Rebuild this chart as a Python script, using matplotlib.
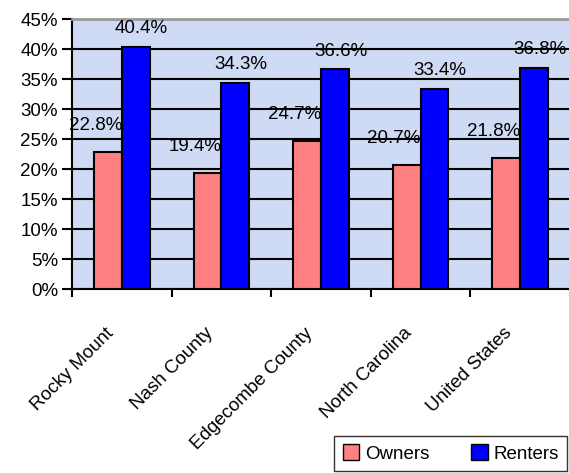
import matplotlib.pyplot as plt
import numpy as np
from matplotlib.transforms import ScaledTranslation
from matplotlib.patches import Patch

plt.rcParams['font.family'] = ['Liberation Sans', 'DejaVu Sans']

categories = ['Rocky Mount', 'Nash County', 'Edgecombe County', 'North Carolina', 'United States']
owners = [22.8, 19.4, 24.7, 20.7, 21.8]
renters = [40.4, 34.3, 36.6, 33.4, 36.8]

fs = 13.5

fig = plt.figure(figsize=(5.69, 4.73), dpi=100)
ax = fig.add_axes([72 / 569, 1 - 289 / 473, 498 / 569, 270 / 473])
ax.set_facecolor('#cfdaf4')

x = np.arange(len(categories))
w = 0.28
ax.bar(x - w / 2, owners, w, color='#ff8080', edgecolor='black', linewidth=1.5, zorder=3)
ax.bar(x + w / 2, renters, w, color='#0000ff', edgecolor='black', linewidth=1.5, zorder=3)

# data labels
for xi, v in zip(x, owners):
    ax.annotate(f'{v}%', (xi - w / 2, v), xytext=(-9, 13), textcoords='offset points',
                ha='center', va='bottom', fontsize=fs)
for xi, v in zip(x, renters):
    ax.annotate(f'{v}%', (xi + w / 2, v), xytext=(4, 7), textcoords='offset points',
                ha='center', va='bottom', fontsize=fs)

ax.set_xlim(-0.5, len(categories) - 0.5)
ax.set_ylim(0, 45)
ax.set_yticks(np.arange(0, 46, 5))
ax.set_yticklabels([f'{t}%' for t in range(0, 46, 5)], fontsize=fs)
ax.yaxis.grid(True, color='black', linewidth=1.5, zorder=1)
ax.set_axisbelow(True)

ax.set_xticks(x)
ax.set_xticks(np.arange(-0.5, len(categories), 1), minor=True)
ax.tick_params(axis='x', which='major', length=0, pad=30)
ax.tick_params(axis='x', which='minor', length=6, width=1.5, direction='out')
ax.tick_params(axis='y', length=7, width=1.5, pad=3)
ax.set_xticklabels(categories, rotation=45, ha='right', va='center',
                   rotation_mode='anchor', fontsize=fs)
for lab in ax.get_xticklabels():
    lab.set_transform(lab.get_transform() + ScaledTranslation(-8 / 72, 0, fig.dpi_scale_trans))

for s in ['left', 'bottom']:
    ax.spines[s].set_linewidth(1.5)
ax.spines['top'].set_color('#999999')
ax.spines['top'].set_linewidth(2)
ax.spines['right'].set_visible(False)

handles = [Patch(facecolor='#ff8080', edgecolor='black', label='Owners'),
           Patch(facecolor='#0000ff', edgecolor='black', label='Renters')]
leg = fig.legend(handles=handles, loc='lower right', bbox_to_anchor=(567 / 569, 2 / 473),
                 borderaxespad=0, ncol=2, fontsize=fs, frameon=True, fancybox=False,
                 borderpad=0.45, handlelength=0.9, handleheight=0.9, handletextpad=0.3,
                 columnspacing=2.2)
leg.get_frame().set_edgecolor('black')
leg.get_frame().set_linewidth(1.0)

fig.savefig('out.png', dpi=100)
